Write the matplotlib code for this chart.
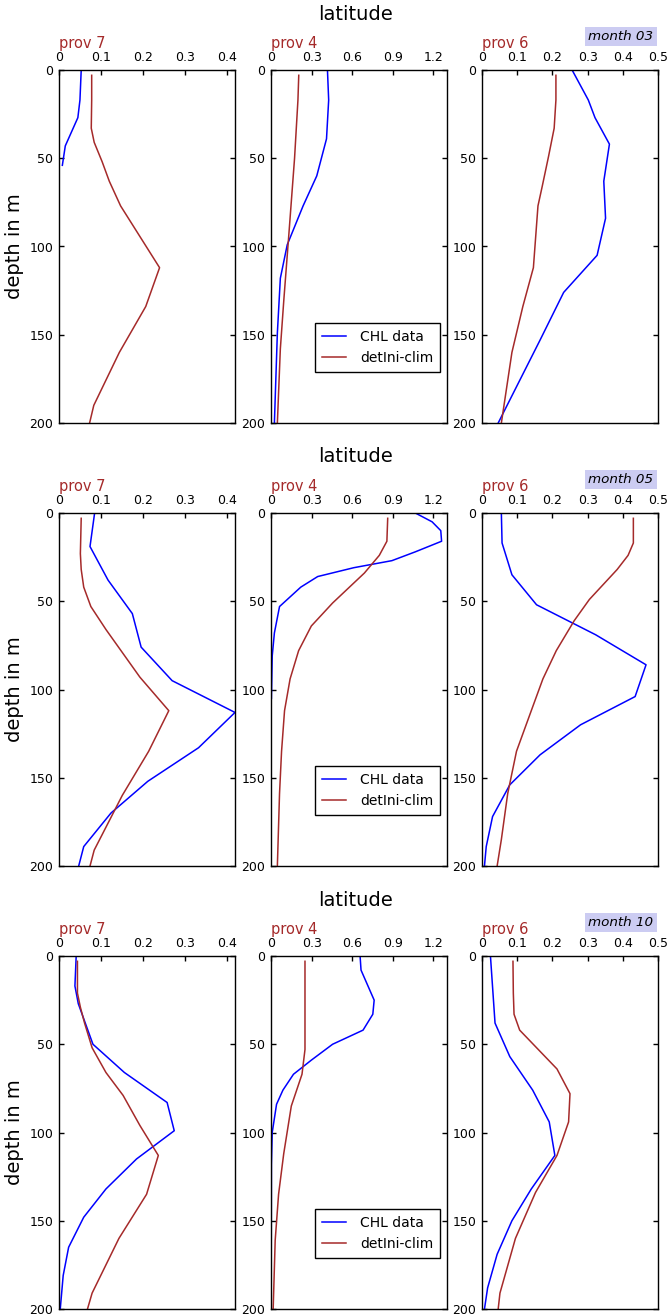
import matplotlib
matplotlib.use('Agg')
import matplotlib.pyplot as plt

# ---------------- data ----------------
months = ['03', '05', '10']
provinces = ['prov 7', 'prov 4', 'prov 6']
xlims = [0.42, 1.3, 0.5]
xticks_p7 = [0, 0.1, 0.2, 0.3, 0.4]
xticks_p4 = [0, 0.3, 0.6, 0.9, 1.2]
xticks_p6 = [0, 0.1, 0.2, 0.3, 0.4, 0.5]
xticklabels_p7 = ['0', '0.1', '0.2', '0.3', '0.4']
xticklabels_p4 = ['0', '0.3', '0.6', '0.9', '1.2']
xticklabels_p6 = ['0', '0.1', '0.2', '0.3', '0.4', '0.5']
yticks = [0, 50, 100, 150, 200]

# month 03
p7_m03_chl_depth = [0, 17, 27, 43, 54]
p7_m03_chl = [0.053, 0.050, 0.045, 0.015, 0.008]
p7_m03_clim_depth = [3, 17, 33, 41, 52, 63, 77, 112, 134, 160, 190, 200]
p7_m03_clim = [0.078, 0.078, 0.077, 0.084, 0.103, 0.120, 0.147, 0.240, 0.207, 0.144, 0.083, 0.073]

p4_m03_chl_depth = [0, 17, 39, 60, 77, 99, 118, 149, 200]
p4_m03_chl = [0.417, 0.426, 0.410, 0.338, 0.237, 0.120, 0.069, 0.047, 0.025]
p4_m03_clim_depth = [3, 17, 50, 92, 130, 158, 200]
p4_m03_clim = [0.205, 0.199, 0.174, 0.133, 0.095, 0.069, 0.047]

p6_m03_chl_depth = [0, 17, 27, 42, 63, 84, 105, 126, 153, 200]
p6_m03_chl = [0.256, 0.302, 0.321, 0.362, 0.346, 0.351, 0.327, 0.232, 0.165, 0.046]
p6_m03_clim_depth = [3, 17, 33, 49, 66, 77, 112, 134, 160, 200]
p6_m03_clim = [0.210, 0.210, 0.205, 0.189, 0.171, 0.159, 0.146, 0.116, 0.085, 0.055]

# month 05
p7_m05_chl_depth = [0, 19, 38, 57, 76, 95, 113, 133, 152, 170, 189, 200]
p7_m05_chl = [0.085, 0.074, 0.117, 0.175, 0.196, 0.270, 0.420, 0.333, 0.212, 0.124, 0.059, 0.047]
p7_m05_clim_depth = [3, 23, 32, 42, 53, 66, 78, 93, 112, 135, 160, 191, 200]
p7_m05_clim = [0.053, 0.051, 0.053, 0.059, 0.076, 0.112, 0.148, 0.193, 0.262, 0.214, 0.151, 0.084, 0.074]

p4_m05_chl_depth = [0, 5, 10, 16, 22, 27, 31, 36, 42, 53, 68, 81, 105]
p4_m05_chl = [1.066, 1.190, 1.254, 1.260, 1.066, 0.893, 0.611, 0.345, 0.220, 0.063, 0.025, 0.009, 0.003]
p4_m05_clim_depth = [3, 16, 24, 34, 51, 64, 78, 94, 112, 135, 159, 200]
p4_m05_clim = [0.862, 0.856, 0.800, 0.690, 0.455, 0.298, 0.204, 0.141, 0.100, 0.078, 0.063, 0.047]

p6_m05_chl_depth = [0, 17, 35, 52, 69, 86, 104, 120, 137, 154, 172, 189, 200]
p6_m05_chl = [0.055, 0.057, 0.085, 0.155, 0.323, 0.466, 0.435, 0.280, 0.165, 0.079, 0.030, 0.012, 0.007]
p6_m05_clim_depth = [3, 17, 24, 32, 49, 61, 78, 94, 112, 135, 159, 185, 200]
p6_m05_clim = [0.430, 0.430, 0.415, 0.384, 0.305, 0.262, 0.211, 0.173, 0.140, 0.098, 0.073, 0.055, 0.043]

# month 10
p7_m10_chl_depth = [0, 17, 27, 50, 66, 83, 99, 115, 132, 148, 165, 181, 200]
p7_m10_chl = [0.041, 0.038, 0.046, 0.081, 0.156, 0.258, 0.275, 0.185, 0.112, 0.059, 0.023, 0.010, 0.003]
p7_m10_clim_depth = [3, 21, 29, 38, 52, 66, 79, 96, 113, 135, 160, 191, 200]
p7_m10_clim = [0.044, 0.044, 0.051, 0.061, 0.079, 0.112, 0.153, 0.193, 0.237, 0.209, 0.143, 0.079, 0.068]

p4_m10_chl_depth = [0, 8, 25, 33, 42, 50, 59, 67, 76, 84, 100, 118, 200]
p4_m10_chl = [0.658, 0.665, 0.762, 0.752, 0.680, 0.455, 0.298, 0.166, 0.088, 0.041, 0.009, 0.003, 0.001]
p4_m10_clim_depth = [3, 53, 67, 85, 112, 135, 161, 200]
p4_m10_clim = [0.251, 0.251, 0.229, 0.150, 0.094, 0.056, 0.031, 0.016]

p6_m10_chl_depth = [0, 38, 57, 76, 94, 113, 132, 150, 169, 188, 200]
p6_m10_chl = [0.024, 0.037, 0.079, 0.144, 0.191, 0.207, 0.140, 0.085, 0.043, 0.016, 0.007]
p6_m10_clim_depth = [3, 21, 33, 42, 64, 78, 94, 113, 134, 160, 191, 200]
p6_m10_clim = [0.088, 0.089, 0.091, 0.107, 0.213, 0.250, 0.246, 0.213, 0.152, 0.095, 0.051, 0.046]

panels = [
    [(p7_m03_chl, p7_m03_chl_depth, p7_m03_clim, p7_m03_clim_depth),
     (p4_m03_chl, p4_m03_chl_depth, p4_m03_clim, p4_m03_clim_depth),
     (p6_m03_chl, p6_m03_chl_depth, p6_m03_clim, p6_m03_clim_depth)],
    [(p7_m05_chl, p7_m05_chl_depth, p7_m05_clim, p7_m05_clim_depth),
     (p4_m05_chl, p4_m05_chl_depth, p4_m05_clim, p4_m05_clim_depth),
     (p6_m05_chl, p6_m05_chl_depth, p6_m05_clim, p6_m05_clim_depth)],
    [(p7_m10_chl, p7_m10_chl_depth, p7_m10_clim, p7_m10_clim_depth),
     (p4_m10_chl, p4_m10_chl_depth, p4_m10_clim, p4_m10_clim_depth),
     (p6_m10_chl, p6_m10_chl_depth, p6_m10_clim, p6_m10_clim_depth)],
]
xtick_sets = [(xticks_p7, xticklabels_p7), (xticks_p4, xticklabels_p4), (xticks_p6, xticklabels_p6)]

# ---------------- figure ----------------
plt.rcParams['font.family'] = ['DejaVu Sans']
W, H = 669, 1316
fig = plt.figure(figsize=(W / 100, H / 100), dpi=100)

col_x = [59, 271, 482]
col_w = 176
row_top = [70, 513, 956]
row_h = 353
title_y = [15, 457, 900]

BLUE = '#0000ff'
BROWN = '#a52a2a'

for r in range(3):
    fig.text(355 / W, 1 - title_y[r] / H, 'latitude', ha='center', va='center', fontsize=14)
    for c in range(3):
        ax = fig.add_axes([col_x[c] / W, 1 - (row_top[r] + row_h) / H, col_w / W, row_h / H])
        chl, chl_d, clim, clim_d = panels[r][c]
        ax.plot(chl, chl_d, color=BLUE, lw=1.1, label='CHL data')
        ax.plot(clim, clim_d, color=BROWN, lw=1.1, label='detIni-clim')
        ax.set_ylim(200, 0)
        ax.set_xlim(0, xlims[c])
        ticks, labels = xtick_sets[c]
        ax.set_xticks(ticks)
        ax.set_xticklabels(labels)
        ax.set_yticks(yticks)
        ax.set_yticklabels([str(v) for v in yticks])
        ax.tick_params(axis='both', direction='in', top=True, bottom=False, left=True, right=True,
                       labeltop=True, labelbottom=False, length=3.3, width=1, labelsize=9, pad=4)
        for s in ax.spines.values():
            s.set_linewidth(1.0)
        ax.text(0.0, 1.062, provinces[c], transform=ax.transAxes, ha='left', va='baseline',
                fontsize=10.5, color=BROWN)
        if c == 0:
            ax.set_ylabel('depth in m', fontsize=14, labelpad=4)
        if c == 1:
            leg = ax.legend(loc='lower right', bbox_to_anchor=(1.0, 0.125), fontsize=10,
                            fancybox=False, framealpha=1, edgecolor='black',
                            handlelength=1.7, borderpad=0.5, labelspacing=0.5, handletextpad=1.0)
            leg.get_frame().set_linewidth(1.0)
        if c == 2:
            ax.text(0.975, 1.095, 'month ' + months[r], transform=ax.transAxes, ha='right', va='center',
                    fontsize=9.7, style='italic',
                    bbox=dict(boxstyle='square,pad=0.25', facecolor='#ccccf2', edgecolor='none'))

fig.savefig('out.png', dpi=100)
